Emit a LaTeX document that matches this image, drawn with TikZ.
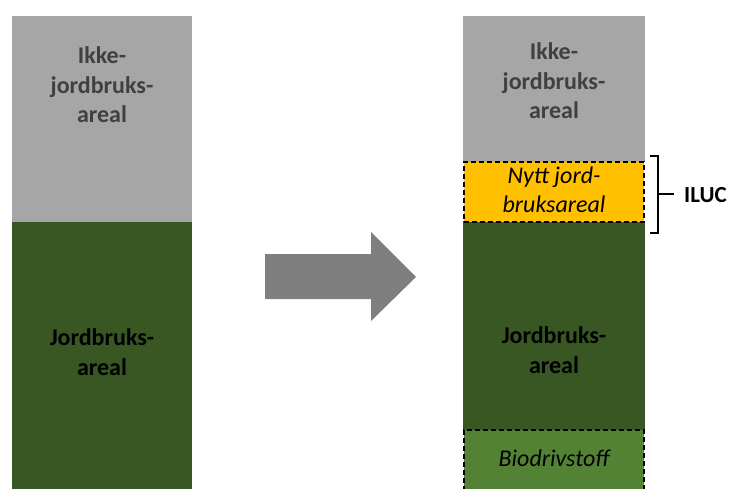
\documentclass[tikz,border=0pt]{standalone}
\usepackage{fontspec}
\setmainfont{Carlito}
\usetikzlibrary{positioning}
\definecolor{greybox}{HTML}{A6A6A6}
\definecolor{darkgreen}{HTML}{385723}
\definecolor{lightgreen}{HTML}{548235}
\definecolor{yellowbox}{HTML}{FFC000}
\definecolor{greytext}{HTML}{404040}
\definecolor{arrowgrey}{HTML}{7F7F7F}
\tikzset{
  blk/.style={inner sep=0pt, outer sep=0pt, anchor=north west},
  lbl/.style={font=\fontsize{24}{29.5}\selectfont\bfseries, align=center, inner sep=0pt},
  ilbl/.style={font=\fontsize{24}{29.5}\selectfont\itshape, align=center, inner sep=0pt},
  dashbox/.style={draw=black, line width=1.7pt, dash pattern=on 5pt off 3pt},
}
\begin{document}
\begin{tikzpicture}[x=1pt,y=-1pt]
\useasboundingbox (0,0) rectangle (733,489);
% left column
\node[blk, fill=greybox, minimum width=180pt, minimum height=206pt] (lgrey) at (12,16) {};
\node[blk, fill=darkgreen, minimum width=180pt, minimum height=268pt] (lgreen) at (12,222) {};
\node[lbl, text=greytext] (ltxt) at (102,85) {Ikke-\\jordbruks-\\areal};
\node[lbl, text=black] (lgtxt) at (102,352) {Jordbruks-\\areal};
% arrow
\fill[arrowgrey] (265,254) -- (371,254) -- (371,232) -- (416,277) -- (371,321) -- (371,299) -- (265,299) -- cycle;
% right column
\node[blk, fill=greybox, minimum width=182pt, minimum height=146pt] (rgrey) at (463,16) {};
\node[blk, fill=darkgreen, minimum width=182pt, minimum height=210pt] (rgreen) at (463,221) {};
\node[blk, fill=yellowbox, dashbox, minimum width=180pt, minimum height=60pt] (ryellow) at (464,162) {};
\node[blk, fill=lightgreen, dashbox, minimum width=180pt, minimum height=64pt] (rbio) at (464,430) {};
\node[lbl, text=greytext] (rtxt) at (554,81) {Ikke-\\jordbruks-\\areal};
\node[ilbl, text=black] (ytxt) at (554,190) {Nytt jord-\\bruksareal};
\node[lbl, text=black] (rgtxt) at (554,350) {Jordbruks-\\areal};
\node[ilbl, text=black, anchor=base] (biotxt) at (554,466) {Biodrivstoff};
% bracket
\coordinate (btop) at (650,156);
\coordinate (bbot) at (650,233);
\coordinate (bmid) at (658,194);
\node[lbl, font=\fontsize{23}{26}\selectfont\bfseries, anchor=base west] (iluc) at (684,202) {ILUC};
\draw[line width=2pt] (btop) -- (658,156) -- (658,233) -- (bbot);
\draw[line width=2pt] (bmid) -- (674,194);
\end{tikzpicture}
\end{document}
